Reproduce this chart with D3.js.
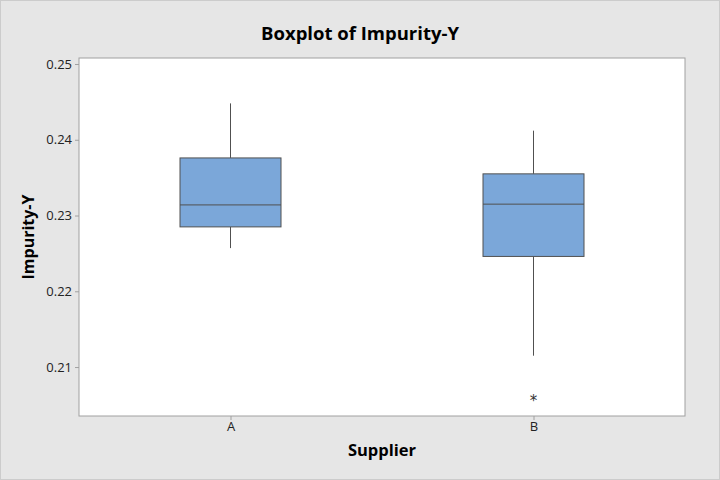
<!DOCTYPE html>
<html><head><meta charset="utf-8">
<script src="https://cdn.jsdelivr.net/npm/d3@7"></script>
<style>body{margin:0;background:#e6e6e6;} svg{display:block;}</style>
</head><body>
<svg id="c" width="720" height="480"></svg>
<script>
const categories = ["A", "B"];
const whiskerLow = [0.2257, 0.2115];
const q1 = [0.2285, 0.2246];
const median = [0.2314, 0.2315];
const q3 = [0.2376, 0.2355];
const whiskerHigh = [0.2448, 0.2412];
const outliers = [[], [0.2059]];
const yTicks = [0.21, 0.22, 0.23, 0.24, 0.25];

const W = 720, H = 480;
const m = {left: 79, right: 35, top: 58, bottom: 64};
const svg = d3.select("#c");
svg.append("rect").attr("x",0.5).attr("y",0.5).attr("width",W-1).attr("height",H-1)
  .attr("fill","#e6e6e6").attr("stroke","#cccccc");
svg.append("rect").attr("x",m.left).attr("y",m.top).attr("width",W-m.left-m.right).attr("height",H-m.top-m.bottom)
  .attr("fill","#ffffff").attr("stroke","#a0a0a0");

const x = d3.scalePoint().domain(categories).range([m.left, W-m.right]).padding(0.5);
const y = d3.scaleLinear().domain([0.20354, 0.25079]).range([H-m.bottom, m.top]);

const font = "'Open Sans', 'Noto Sans', sans-serif";
const yAxis = svg.append("g").attr("transform",`translate(${m.left},0)`)
  .call(d3.axisLeft(y).tickValues(yTicks).tickFormat(d3.format(".2f")).tickSize(4).tickPadding(3));
const xAxis = svg.append("g").attr("transform",`translate(0,${H-m.bottom})`)
  .call(d3.axisBottom(x).tickSize(4).tickPadding(2));
[yAxis, xAxis].forEach(a => {
  a.select(".domain").remove();
  a.selectAll(".tick line").attr("stroke","#a0a0a0");
  a.selectAll("text").attr("fill","#222").style("font-family",font).style("font-size","13px");
});

const bw = x.step()/3;
const g = svg.append("g");
categories.forEach((c,i) => {
  const cx = x(c);
  g.append("line").attr("x1",cx).attr("x2",cx).attr("y1",y(whiskerHigh[i])).attr("y2",y(q3[i]))
    .attr("stroke","#505050").attr("stroke-width",1);
  g.append("line").attr("x1",cx).attr("x2",cx).attr("y1",y(q1[i])).attr("y2",y(whiskerLow[i]))
    .attr("stroke","#505050").attr("stroke-width",1);
  g.append("rect").attr("x",cx-bw/2).attr("width",bw).attr("y",y(q3[i])).attr("height",y(q1[i])-y(q3[i]))
    .attr("fill","#7ba7d9").attr("stroke","#505050").attr("stroke-width",1);
  g.append("line").attr("x1",cx-bw/2).attr("x2",cx+bw/2).attr("y1",y(median[i])).attr("y2",y(median[i]))
    .attr("stroke","#505050").attr("stroke-width",1);
  outliers[i].forEach(v => {
    g.append("text").attr("x",cx).attr("y",y(v)+8).attr("text-anchor","middle")
      .style("font-family","'DejaVu Sans', sans-serif").style("font-size","15px").attr("fill","#333").text("*");
  });
});

svg.append("text").attr("x",360).attr("y",40).attr("text-anchor","middle")
  .style("font-family",font).style("font-weight","bold").style("font-size","18.5px").attr("fill","#000")
  .text("Boxplot of Impurity-Y");
svg.append("text").attr("x",(m.left+W-m.right)/2).attr("y",456).attr("text-anchor","middle")
  .style("font-family",font).style("font-weight","bold").style("font-size","16.5px").attr("fill","#000")
  .text("Supplier");
svg.append("text").attr("transform",`translate(34,${(m.top+H-m.bottom)/2}) rotate(-90)`).attr("text-anchor","middle")
  .style("font-family",font).style("font-weight","bold").style("font-size","16px").attr("fill","#000")
  .text("Impurity-Y");
</script>
</body></html>
